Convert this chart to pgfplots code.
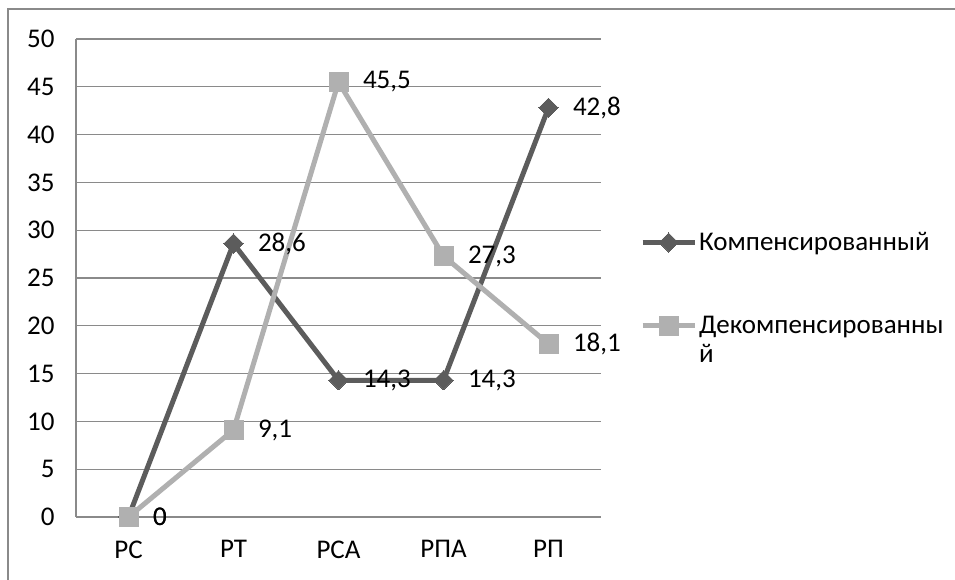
\documentclass[border=0pt]{standalone}
\usepackage{fontspec}
\setmainfont{Carlito}
\usepackage{pgfplots}
\pgfplotsset{compat=1.18}
\definecolor{darkser}{HTML}{5C5C5C}
\definecolor{lightser}{HTML}{B0B0B0}
\definecolor{gridc}{HTML}{8A8A8A}
\pgfplotsset{/pgf/number format/assume math mode=true, /pgf/number format/use comma}
\begin{document}
\begin{tikzpicture}[x=1pt,y=1pt]
\path[use as bounding box] (0,0) rectangle (955,580);
\draw[gridc,line width=1.3pt] (8,0) -- (8,571) -- (955,571);
\begin{axis}[at={(76pt,63pt)}, anchor=south west, scale only axis,
  width=525pt, height=478pt,
  xmin=-0.5, xmax=4.5, ymin=0, ymax=50,
  ytick={0,5,...,50}, xtick={0,1,2,3,4},
  xticklabels={РС,РТ,РСА,РПА,РП},
  ymajorgrids, grid style={gridc,line width=1.2pt},
  axis x line*=bottom, axis y line*=left,
  axis line style={gridc,line width=1.2pt,-},
  major tick length=0pt,
  tick label style={font=\fontsize{27}{32}\selectfont, text=black},
  yticklabel style={xshift=-18pt},
  xticklabel style={yshift=-20pt},
  clip=false,
  legend image code/.code={\draw[mark repeat=2,mark phase=2,#1] plot coordinates {(0pt,0pt)(26pt,0pt)(52pt,0pt)};},
  legend style={at={(axis description cs:1,0.5)}, anchor=west, xshift=36pt, yshift=-6pt,
    draw=none, fill=none, font=\fontsize{27}{32}\selectfont,
    cells={anchor=west, align=left}, row sep=60pt},
  nodes near coords style={font=\fontsize{27}{32}\selectfont, text=black, anchor=west, xshift=21pt},
]
\addplot[darkser, line width=5pt, mark=square*, mark size=6.8pt, mark options={rotate=45,fill=darkser,draw=darkser,line width=0pt}]
  coordinates {(0,0) (1,28.6) (2,14.3) (3,14.3) (4,42.8)};
\addlegendentry{Компенсированный}
\addplot[lightser, line width=5pt, mark=square*, mark size=9.5pt, mark options={fill=lightser,draw=lightser,line width=0pt}]
  coordinates {(0,0) (1,9.1) (2,45.5) (3,27.3) (4,18.1)};
\addlegendentry{\makebox[0pt][l]{\smash{\raisebox{-29pt}{й}}}Декомпенсированны}
\addplot[draw=none, mark=none, nodes near coords, forget plot]
  coordinates {(0,0) (1,28.6) (2,14.3) (3,14.3) (4,42.8)};
\addplot[draw=none, mark=none, nodes near coords, forget plot]
  coordinates {(0,0) (1,9.1) (2,45.5) (3,27.3) (4,18.1)};
\end{axis}
\end{tikzpicture}
\end{document}
